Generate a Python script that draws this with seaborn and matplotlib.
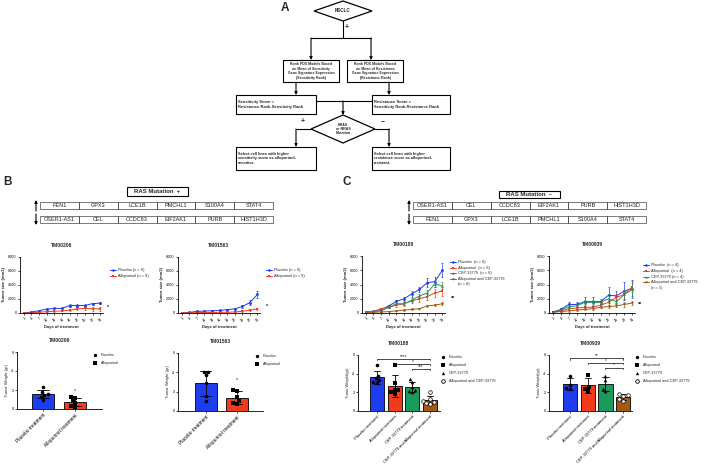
import numpy as np
import pandas as pd
import matplotlib
matplotlib.use("Agg")
import matplotlib.pyplot as plt
from matplotlib.patches import Rectangle, Polygon
import seaborn as sns

sns.set_theme(style="ticks")
plt.rcParams['font.family'] = ['Liberation Sans', 'DejaVu Sans']
plt.rcParams['axes.linewidth'] = 0.6

# ---------------- data ----------------
days = [1, 4, 7, 10, 13, 16, 19, 22, 25, 28, 31]

genes_b_up = ["FEN1", "GPX3", "LCE1B", "PMCHL1", "S100A4", "STAT4"]
genes_b_down = ["OSER1-AS1", "CEL", "CCDC83", "EIF2AK1", "PURB", "HIST1H3D"]
genes_c_up = ["OSER1-AS1", "CEL", "CCDC83", "EIF2AK1", "PURB", "HIST1H3D"]
genes_c_down = ["FEN1", "GPX3", "LCE1B", "PMCHL1", "S100A4", "STAT4"]

# tumour growth (mm3), mean and error
tm206_placebo = [0, 140, 330, 560, 650, 650, 1070, 1070, 1070, 1350, 1400]
tm206_placebo_err = [0, 40, 60, 80, 100, 100, 150, 150, 150, 150, 150]
tm206_allo = [0, 50, 100, 200, 250, 300, 400, 600, 650, 600, 600]
tm206_allo_err = [0, 20, 40, 60, 60, 80, 100, 200, 250, 250, 250]

tm1563_placebo = [0, 90, 230, 280, 320, 370, 470, 600, 930, 1500, 2650]
tm1563_placebo_err = [0, 30, 40, 50, 60, 70, 90, 120, 200, 300, 550]
tm1563_allo = [0, 50, 50, 80, 80, 100, 100, 150, 250, 400, 600]
tm1563_allo_err = [0, 20, 20, 30, 30, 40, 40, 50, 70, 80, 100]

tm188_placebo = [100, 230, 470, 1000, 1640, 2000, 2700, 3300, 4250, 4400, 6000]
tm188_placebo_err = [50, 60, 100, 150, 250, 300, 400, 400, 600, 700, 1000]
tm188_allo = [100, 200, 600, 800, 1100, 1300, 1700, 2000, 2300, 2800, 3100]
tm188_allo_err = [50, 60, 150, 150, 200, 300, 300, 400, 500, 600, 700]
tm188_cep = [100, 200, 300, 800, 1300, 1300, 1800, 2400, 2800, 4100, 3800]
tm188_cep_err = [40, 50, 80, 120, 200, 200, 300, 300, 400, 500, 500]
tm188_combo = [100, 100, 150, 200, 300, 400, 500, 600, 1000, 1100, 1300]
tm188_combo_err = [20, 20, 30, 40, 50, 50, 60, 80, 100, 150, 200]

tm939_placebo = [150, 500, 1200, 1200, 1600, 1600, 1600, 2500, 2400, 3100, 3400]
tm939_placebo_err = [100, 200, 300, 300, 700, 600, 400, 1100, 700, 1300, 1300]
tm939_allo = [100, 300, 600, 700, 800, 800, 1100, 1500, 2200, 2600, 3700]
tm939_allo_err = [50, 100, 200, 300, 300, 300, 400, 400, 500, 600, 800]
tm939_cep = [100, 400, 900, 1000, 1500, 1500, 1500, 2000, 1600, 2600, 3300]
tm939_cep_err = [50, 100, 200, 200, 300, 300, 300, 400, 400, 600, 900]
tm939_combo = [100, 200, 300, 400, 500, 600, 800, 900, 1000, 1200, 1400]
tm939_combo_err = [20, 50, 100, 100, 100, 150, 150, 200, 200, 300, 300]

# tumour weights (gr), individual animals
w206_placebo = [2.3, 1.8, 1.6, 1.5, 1.3, 1.0]
w206_allo = [1.3, 1.2, 0.9, 0.6, 0.3, 0.2]
w1563_placebo = [4.0, 4.0, 3.7, 2.9, 1.6, 1.0]
w1563_allo = [2.2, 2.1, 1.5, 1.0, 0.8, 0.7]
w188_placebo = [4.9, 3.8, 3.5, 3.3, 3.1, 3.0]
w188_allo = [4.9, 3.0, 2.3, 2.2, 2.0, 1.8]
w188_cep = [3.4, 3.1, 2.6, 2.3, 2.1, 2.0]
w188_combo = [2.0, 1.3, 1.1, 1.0, 0.9, 0.8]
w939_placebo = [3.8, 2.8, 2.5, 2.4]
w939_allo = [3.9, 2.6, 2.4, 2.1]
w939_cep = [3.7, 3.3, 2.4, 2.1]
w939_combo = [1.8, 1.7, 1.6, 1.3, 1.1]

groups2 = ["Placebo", "Allopurinol"]
groups4 = ["Placebo", "Allopurinol", "CEP-33779", "Allopurinol and CEP-33779"]
bar_ticks2 = ["Placebo treatment", "Allopurinol treatment"]
bar_ticks4 = ["Placebo treatment", "Allopurinol treatment", "CEP-33779 treatment",
              "CEP-33779 and Allopurinol treatment"]
colors4 = ["#1E3CF0", "#F23A1C", "#1C9A5C", "#A35A0E"]
line_markers4 = ["o", "s", "^", "v"]
bar_markers4 = ["o", "s", "^", "open"]

# ---------------- figure ----------------
W, H = 709, 472
fig = plt.figure(figsize=(W / 100, H / 100), dpi=100)


def rect(x0, y0, x1, y1):
    return [x0 / W, 1 - y1 / H, (x1 - x0) / W, (y1 - y0) / H]


ov = fig.add_axes([0, 0, 1, 1])
ov.set_xlim(0, W)
ov.set_ylim(H, 0)
ov.axis('off')
ov.set_zorder(10)
ov.patch.set_alpha(0)


def arrow(x0, y0, x1, y1):
    ov.annotate('', xy=(x1, y1), xytext=(x0, y0),
                arrowprops=dict(arrowstyle='-|>', lw=0.8, color='black',
                                mutation_scale=4, shrinkA=0, shrinkB=0))


def box(x0, y0, x1, y1, text, fs, ha='center'):
    ov.add_patch(Rectangle((x0, y0), x1 - x0, y1 - y0, fill=False, lw=0.8, ec='black'))
    if ha == 'center':
        ov.text((x0 + x1) / 2, (y0 + y1) / 2, text, ha='center', va='center',
                fontsize=fs, fontweight='bold', linespacing=1.15)
    else:
        ov.text(x0 + 1.5, (y0 + y1) / 2, text, ha='left', va='center',
                fontsize=fs, fontweight='bold', linespacing=1.15)


def diamond(cx, cy, w, h, text, fs):
    ov.add_patch(Polygon([(cx - w / 2, cy), (cx, cy - h / 2), (cx + w / 2, cy), (cx, cy + h / 2)],
                         closed=True, fill=False, lw=0.9, ec='black'))
    ov.text(cx, cy, text, ha='center', va='center', fontsize=fs, fontweight='bold', linespacing=1.1)


# ---- panel A flowchart ----
ov.text(285, 8, "A", fontsize=8.5, fontweight='bold', ha='center', va='center')
diamond(343, 11, 58, 20, "NSCLC", 3.3)
ov.plot([343, 343], [21, 38], color='black', lw=0.8)
ov.text(347, 27, "+", fontsize=5, fontweight='bold', ha='center', va='center')
ov.plot([311, 371], [38, 38], color='black', lw=0.8)
arrow(311, 38, 311, 60)
arrow(371, 38, 371, 60)
box(283, 60, 339, 82, "Rank PDX Models Based\non Mean of Sensitivity\nGene Signature Expression\n(Sensitivity Rank)", 2.5)
box(347, 60, 403, 82, "Rank PDX Models Based\non Mean of Resistance\nGene Signature Expression\n(Resistance Rank)", 2.5)
arrow(296, 82, 296, 95)
arrow(389, 82, 389, 95)
box(236, 95, 316, 114, "Sensitivity Score =\nResistance Rank-Sensitivity Rank", 2.9, ha='left')
box(372, 95, 450, 114, "Resistance Score =\nSensitivity Rank-Resistance Rank", 2.9, ha='left')
ov.plot([316, 372], [101, 101], color='black', lw=0.8)
arrow(343, 101, 343, 115)
diamond(343, 129, 64, 28, "KRAS\nor NRAS\nMutation", 2.6)
ov.text(303, 122, "+", fontsize=5, fontweight='bold', ha='center', va='center')
ov.text(383, 122, "\u2212", fontsize=5, fontweight='bold', ha='center', va='center')
ov.plot([311, 296], [129, 129], color='black', lw=0.8)
arrow(296, 129, 296, 147)
ov.plot([375, 389], [129, 129], color='black', lw=0.8)
arrow(389, 129, 389, 147)
box(236, 147, 316, 170, "Select cell lines with higher\nsensitivity score as allopurinol-\nsensitive.", 2.8, ha='left')
box(372, 147, 450, 170, "Select cell lines with higher\nresistance score as allopurinol-\nresistant.", 2.8, ha='left')

# ---- tables for B and C ----
ov.text(8, 182, "B", fontsize=8.5, fontweight='bold', ha='center', va='center')
ov.text(347, 182, "C", fontsize=8.5, fontweight='bold', ha='center', va='center')


def gene_table(x0, x1, box_x0, box_x1, box_y0, box_y1, label, up, down):
    ov.add_patch(Rectangle((box_x0, box_y0), box_x1 - box_x0, box_y1 - box_y0,
                           fill=False, lw=0.8, ec='black'))
    ov.text((box_x0 + box_x1) / 2, (box_y0 + box_y1) / 2, label, ha='center', va='center',
            fontsize=4.3, fontweight='bold')
    cw = (x1 - x0) / len(up)
    for (ya, yb), genes in (((202, 209), up), ((216, 223), down)):
        for i, g in enumerate(genes):
            ov.add_patch(Rectangle((x0 + i * cw, ya), cw, yb - ya, fill=False, lw=0.5, ec='#444444'))
            ov.text(x0 + (i + 0.5) * cw, (ya + yb) / 2 + 0.3, g, ha='center', va='center',
                    fontsize=4.0, color='#222222')
    arrow(x0 - 4, 211, x0 - 4, 200)
    arrow(x0 - 4, 214, x0 - 4, 225)


gene_table(40, 273, 127, 188, 187, 196, "RAS Mutation  +", genes_b_up, genes_b_down)
gene_table(413, 646, 499, 560, 191, 198, "RAS Mutation  \u2013", genes_c_up, genes_c_down)


def style_axes(ax):
    for s in ['top', 'right']:
        ax.spines[s].set_visible(False)
    for s in ['left', 'bottom']:
        ax.spines[s].set_linewidth(0.6)
        ax.spines[s].set_color('black')
    ax.tick_params(axis='both', length=1.5, width=0.5, pad=1, labelsize=2.7, colors='black')


def manual_legend(entries, x, y, dy, kind):
    for i, (lab, col, mk) in enumerate(entries):
        yy = y + i * dy
        if kind == 'line':
            ov.plot([x, x + 6], [yy, yy], color=col, lw=0.7)
            ov.plot([x + 3], [yy], marker=mk, color=col, ms=1.8, mew=0)
            lines = lab.split("\n")
            for k, ln in enumerate(lines):
                ov.text(x + 8, yy + k * dy, ln, ha='left', va='center', fontsize=2.8)
        else:
            if mk == 'open':
                ov.plot([x], [yy], marker='o', mfc='white', mec='black', mew=0.6, ms=2.6)
            else:
                ov.plot([x], [yy], marker=mk, color='black', ms=2.4, mew=0)
            ov.text(x + 6, yy, lab, ha='left', va='center', fontsize=2.8)


def growth_chart(px, title, groups, means, errs, colors, markers, labels, leg_xy, leg_dy, star_xy, star):
    ax = fig.add_axes(rect(*px))
    rows = [(g, d, v) for g, m in zip(groups, means) for d, v in zip(days, m)]
    df = pd.DataFrame(rows, columns=['group', 'day', 'size'])
    sns.lineplot(data=df, x='day', y='size', hue='group', style='group', hue_order=groups,
                 palette=dict(zip(groups, colors)), markers=dict(zip(groups, markers)),
                 dashes=False, markersize=2, linewidth=0.7, markeredgewidth=0,
                 legend=False, ax=ax)
    for m, e, c in zip(means, errs, colors):
        ax.errorbar(days, m, yerr=e, fmt='none', ecolor=c, elinewidth=0.5, capsize=1, capthick=0.5)
    style_axes(ax)
    ax.set_xlim(-0.5, 32)
    ax.set_ylim(0, 8000)
    ax.set_yticks([0, 2000, 4000, 6000, 8000])
    ax.set_xticks(days)
    ax.set_xticklabels([str(d) for d in days], rotation=45, ha='right', rotation_mode='anchor')
    ax.set_xlabel("Days of treatment", fontsize=3.0, fontweight='bold', labelpad=2)
    ax.set_ylabel("Tumor size (mm3)", fontsize=3.0, fontweight='bold', labelpad=1.5)
    ax.set_title(title, fontsize=3.6, fontweight='bold', pad=7)
    manual_legend(list(zip(labels, colors, markers)), leg_xy[0], leg_xy[1], leg_dy, 'line')
    ov.text(star_xy[0], star_xy[1], star, fontsize=4, fontweight='bold', ha='left', va='center')
    return ax


growth_chart((20, 257, 103, 313), "TM00206", groups2, [tm206_placebo, tm206_allo],
             [tm206_placebo_err, tm206_allo_err], colors4[:2], line_markers4[:2],
             ["Placebo (n = 6)", "Allopurinol (n = 6)"], (110, 270), 5.5, (107, 307), "*")
growth_chart((178, 257, 260, 313), "TM01563", groups2, [tm1563_placebo, tm1563_allo],
             [tm1563_placebo_err, tm1563_allo_err], colors4[:2], line_markers4[:2],
             ["Placebo (n = 6)", "Allopurinol (n = 6)"], (266, 270), 5.5, (266, 306), "*")
growth_chart((362, 256, 445, 313), "TM00188", groups4,
             [tm188_placebo, tm188_allo, tm188_cep, tm188_combo],
             [tm188_placebo_err, tm188_allo_err, tm188_cep_err, tm188_combo_err],
             colors4, line_markers4,
             ["Placebo  (n = 6)", "Allopurinol  (n = 6)", "CEP-33779  (n = 6)",
              "Allopurinol and CEP-33779\n(n = 6)"], (450, 262), 5.6, (451, 298), "**")
growth_chart((549, 256, 635, 313), "TM00939", groups4,
             [tm939_placebo, tm939_allo, tm939_cep, tm939_combo],
             [tm939_placebo_err, tm939_allo_err, tm939_cep_err, tm939_combo_err],
             colors4, line_markers4,
             ["Placebo  (n = 4)", "Allopurinol  (n = 4)", "CEP-33779 (n = 4)",
              "Allopurinol and CEP-33779\n(n = 5)"], (643, 265), 5.8, (638, 304), "**")


def weight_chart(px, title, groups, ticklabels, values, colors, markers, xlim, width, ylabel,
                 leg_xy, brackets, tick_fs, star=None):
    ax = fig.add_axes(rect(*px))
    ax.patch.set_alpha(0)
    df = pd.DataFrame([(g, v) for g, vals in zip(groups, values) for v in vals],
                      columns=['group', 'w'])
    sns.barplot(data=df, x='group', y='w', hue='group', order=groups, hue_order=groups,
                palette=dict(zip(groups, colors)), errorbar='sd', capsize=0.35,
                err_kws={'linewidth': 0.6, 'color': 'black'}, edgecolor='black',
                linewidth=0.6, width=width, saturation=1, legend=False, ax=ax)
    for g, m in zip(groups, markers):
        sub = df[df.group == g]
        if m == 'open':
            sns.swarmplot(data=sub, x='group', y='w', order=groups, marker='o', color='white',
                          edgecolor='black', linewidth=0.5, size=2.6, ax=ax)
        else:
            sns.swarmplot(data=sub, x='group', y='w', order=groups, marker=m, color='black',
                          linewidth=0, size=2.6, ax=ax)
    style_axes(ax)
    ax.set_xlim(*xlim)
    ax.set_ylim(0, 6)
    ax.set_yticks([0, 2, 4, 6])
    ax.set_xticks(range(len(groups)))
    ax.set_xticklabels(ticklabels, rotation=45, ha='right', rotation_mode='anchor', fontsize=tick_fs)
    ax.set_xlabel("")
    ax.set_ylabel(ylabel, fontsize=3.0, labelpad=1.5)
    ax.set_title(title, fontsize=3.6, fontweight='bold', pad=7)
    for i, j, yv, txt in brackets:
        ax.plot([i, i, j, j], [yv - 0.15, yv, yv, yv - 0.15], color='black', lw=0.5, clip_on=False)
        ax.text((i + j) / 2, yv + 0.02, txt, ha='center', va='bottom', fontsize=3.5)
    if star is not None:
        ax.text(star[0], star[1], "*", ha='center', va='center', fontsize=4)
    manual_legend(list(zip(groups, colors, markers)), leg_xy[0], leg_xy[1], leg_xy[2], 'bar')
    return ax


weight_chart((17, 352, 102, 409), "TM00206", groups2, bar_ticks2, [w206_placebo, w206_allo],
             colors4[:2], bar_markers4[:2], (-0.81, 1.84), 0.7, "Tumor Weight (gr)",
             (95, 355, 8), [], 3.4, star=(1, 1.95))
weight_chart((178, 353, 263, 411), "TM01563", groups2, bar_ticks2, [w1563_placebo, w1563_allo],
             colors4[:2], bar_markers4[:2], (-0.9, 1.84), 0.72, "Tumor Weight (gr)",
             (257, 356, 8), [], 3.4, star=(1, 3.25))
weight_chart((358, 355, 440, 411), "TM00188", groups4, bar_ticks4,
             [w188_placebo, w188_allo, w188_cep, w188_combo],
             colors4, bar_markers4, (-1.07, 3.56), 0.78, "Tumo Weight(gr)",
             (443, 357, 8), [(0, 3, 5.6, "****"), (1, 3, 5.05, "*"), (2, 3, 4.5, "***")], 2.9)
weight_chart((549, 355, 632, 411), "TM00939", groups4, bar_ticks4,
             [w939_placebo, w939_allo, w939_cep, w939_combo],
             colors4, bar_markers4, (-1.19, 3.5), 0.8, "Tumo Weight(gr)",
             (637, 357, 8), [(0, 3, 5.65, "**"), (1, 3, 5.15, "*"), (2, 3, 4.65, "*")], 2.9)

fig.savefig("out.png", dpi=100)
